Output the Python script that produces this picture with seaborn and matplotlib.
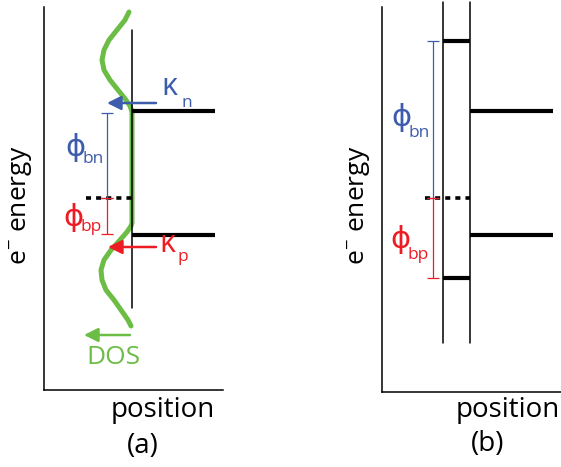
import matplotlib
matplotlib.use("Agg")
import matplotlib.pyplot as plt
import numpy as np
import pandas as pd
import seaborn as sns

# ---------------- data (energies relative to Fermi level, arbitrary units) -------------
E_F = 0.0
E_c = 0.87          # conduction-band edge (semiconductor)
E_v = -0.37         # valence-band edge (semiconductor)
E_metal_top = 1.57  # panel (b) interlayer upper level
E_metal_bot = -0.80 # panel (b) interlayer lower level

# DOS of the interface states (panel a)
dos_energy = [1.86, 1.78, 1.68, 1.58, 1.48, 1.38, 1.28, 1.18, 1.08, 0.98, 0.92, 0.88,
              0.86, -0.25,
              -0.28, -0.34, -0.42, -0.52, -0.62, -0.72, -0.82, -0.92, -1.02, -1.12, -1.22, -1.28]
dos_value = [0.03, 0.07, 0.15, 0.23, 0.28, 0.30, 0.28, 0.22, 0.14, 0.06, 0.02, 0.005,
             0.0, 0.0,
             0.01, 0.05, 0.12, 0.21, 0.28, 0.31, 0.30, 0.26, 0.18, 0.11, 0.04, 0.01]

# positions
x_interface_a = 0.88
x_interlayer_b = [0.61, 0.88]
x_level_end = 1.71
x_fermi_start_a = 0.42
x_fermi_start_b = 0.43
x_bar_a = 0.63
x_bar_b = 0.51

BLUE = "#3d5cab"
RED = "#ed1c24"
GREEN = "#6cbd45"

sns.set_theme(style="white")
plt.rcParams["font.family"] = ["Open Sans", "DejaVu Sans"]
plt.rcParams["text.color"] = "black"
plt.rcParams["mathtext.fontset"] = "custom"
plt.rcParams["mathtext.rm"] = "Open Sans"
plt.rcParams["mathtext.it"] = "Open Sans"
plt.rcParams["mathtext.sf"] = "Open Sans"

W, H = 561, 467
fig = plt.figure(figsize=(W / 100, H / 100), dpi=100)
fig.patch.set_facecolor("white")


def axes_px(l, t, r, b):
    return fig.add_axes([l / W, 1 - b / H, (r - l) / W, (b - t) / H])


axa = axes_px(44, 7, 223, 390)
axb = axes_px(382, 7, 561, 392)
axa.set_ylim(-1.92, 1.91)
axb.set_ylim(-1.94, 1.91)
for ax in (axa, axb):
    ax.set_xlim(0, 1.79)
    ax.set_facecolor("white")
    for s in ("top", "right"):
        ax.spines[s].set_visible(False)
    for s in ("left", "bottom"):
        ax.spines[s].set_color("black")
        ax.spines[s].set_linewidth(1.1)
    ax.set_xticks([])
    ax.set_yticks([])
    ax.set_xlabel("")
    ax.set_ylabel("")

# ---------------- panel (a) ----------------
dos_df = pd.DataFrame({"x": [x_interface_a - d for d in dos_value], "E": dos_energy})
sns.lineplot(data=dos_df, x="x", y="E", ax=axa, sort=False, estimator=None,
             color=GREEN, linewidth=3.6, solid_capstyle="round")
axa.plot([x_interface_a, x_interface_a], [1.68, -1.10], color="black", lw=1.1)
for E in (E_c, E_v):
    axa.plot([x_interface_a, x_level_end], [E, E], color="black", lw=3.0,
             solid_capstyle="butt")
axa.plot([x_fermi_start_a, x_interface_a], [E_F, E_F], color="black", lw=2.6,
         linestyle=(0, (1.4, 1.4)))
axa.errorbar([x_bar_a], [(E_c - 0.02 + E_F) / 2], yerr=[(E_c - 0.02 - E_F) / 2], fmt="none",
             ecolor=BLUE, elinewidth=0.9, capsize=4, capthick=0.9)
axa.errorbar([x_bar_a], [(E_v + 0.01 + E_F) / 2], yerr=[-(E_v + 0.01 - E_F) / 2], fmt="none",
             ecolor=RED, elinewidth=0.9, capsize=4, capthick=0.9)

arrow = "-|>,head_length=0.6,head_width=0.3"
axa.annotate("", xy=(0.63, 0.95), xytext=(1.12, 0.95),
             arrowprops=dict(arrowstyle=arrow, color=BLUE, lw=1.8, mutation_scale=14,
                             shrinkA=0, shrinkB=0))
axa.annotate("", xy=(0.64, -0.49), xytext=(1.12, -0.49),
             arrowprops=dict(arrowstyle=arrow, color=RED, lw=1.8, mutation_scale=14,
                             shrinkA=0, shrinkB=0))
axa.annotate("", xy=(0.40, -1.37), xytext=(0.86, -1.37),
             arrowprops=dict(arrowstyle=arrow, color=GREEN, lw=1.8, mutation_scale=14,
                             shrinkA=0, shrinkB=0))


def label(ax, x, y, main, sub, color, size, subsize, dx, dy, va="center"):
    ax.text(x, y, main, color=color, fontsize=size, ha="left", va=va)
    ax.annotate(sub, xy=(x, y), xytext=(dx, dy), textcoords="offset points",
                color=color, fontsize=subsize, ha="left", va="baseline")


label(axa, 1.17, 1.03, "κ", "n", BLUE, 22, 12.5, 14.5, -8.6, va="baseline")
label(axa, 1.15, -0.54, "κ", "p", RED, 22, 12.5, 13.5, -6.5, va="baseline")
label(axa, 0.215, 0.505, "ϕ", "bn", BLUE, 22, 12.5, 12.2, -11.2)
label(axa, 0.195, -0.205, "ϕ", "bp", RED, 22, 12.5, 12.2, -9.0)
axa.text(0.69, -1.60, "DOS", color=GREEN, fontsize=19, ha="center", va="center")

# ---------------- panel (b) ----------------
for xv in x_interlayer_b:
    axb.plot([xv, xv], [1.96, -1.45], color="black", lw=1.1, clip_on=False)
for E in (E_metal_top, E_metal_bot):
    axb.plot(x_interlayer_b, [E, E], color="black", lw=3.0, solid_capstyle="butt")
for E in (E_c, E_v):
    axb.plot([x_interlayer_b[1], x_level_end], [E, E], color="black", lw=3.0,
             solid_capstyle="butt")
axb.plot([x_fermi_start_b, x_interlayer_b[1]], [E_F, E_F], color="black", lw=2.6,
         linestyle=(0, (1.4, 1.4)))
axb.errorbar([x_bar_b], [(E_metal_top + E_F) / 2], yerr=[(E_metal_top - E_F) / 2], fmt="none",
             ecolor=BLUE, elinewidth=0.9, capsize=4, capthick=0.9)
axb.errorbar([x_bar_b], [(E_metal_bot + E_F) / 2], yerr=[-(E_metal_bot - E_F) / 2], fmt="none",
             ecolor=RED, elinewidth=0.9, capsize=4, capthick=0.9)
label(axb, 0.095, 0.795, "ϕ", "bn", BLUE, 22, 12.5, 12.2, -13.3)
label(axb, 0.085, -0.425, "ϕ", "bp", RED, 22, 12.5, 12.2, -13.3)

# ---------------- labels ----------------
for xc in (22, 360):
    fig.text(xc / W, 1 - 205 / H, r"e$^{-}$ energy", rotation=90, fontsize=19,
             ha="center", va="center", color="black")
fig.text(215 / W, 1 - 410 / H, "position", fontsize=20, ha="right", va="center")
fig.text(560 / W, 1 - 410 / H, "position", fontsize=20, ha="right", va="center")
fig.text(143 / W, 1 - 446 / H, "(a)", fontsize=20, ha="center", va="center")
fig.text(488 / W, 1 - 444 / H, "(b)", fontsize=20, ha="center", va="center")

fig.savefig("out.png", dpi=100, facecolor="white")
